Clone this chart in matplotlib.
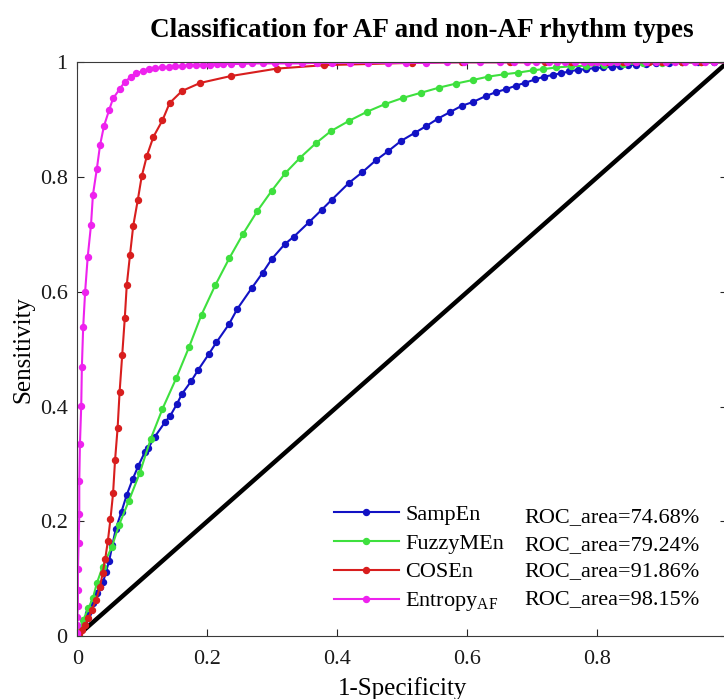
import matplotlib
matplotlib.use("Agg")
import matplotlib.pyplot as plt

plt.rcParams['font.family'] = ['Liberation Serif', 'DejaVu Serif']
plt.rcParams['mathtext.fontset'] = 'custom'
plt.rcParams['mathtext.rm'] = 'Liberation Serif'
plt.rcParams['mathtext.it'] = 'Liberation Serif:italic'

# ROC curves: (1-Specificity, Sensitivity) pairs for each entropy measure
sampen_fpr = [0, 0.004, 0.010, 0.017, 0.024, 0.030, 0.035, 0.040, 0.044, 0.049, 0.054, 0.059,
              0.068, 0.076, 0.085, 0.094, 0.104, 0.109, 0.119, 0.135, 0.143, 0.153, 0.161, 0.175,
              0.186, 0.202, 0.214, 0.233, 0.246, 0.268, 0.285, 0.299, 0.319, 0.333, 0.357, 0.376,
              0.391, 0.418, 0.438, 0.459, 0.478, 0.498, 0.519, 0.537, 0.555, 0.573, 0.591, 0.609,
              0.628, 0.644, 0.659, 0.674, 0.688, 0.704, 0.718, 0.732, 0.744, 0.757, 0.770, 0.783,
              0.796, 0.809, 0.822, 0.834, 0.847, 0.860, 0.875, 0.890, 0.910, 0.930, 0.955, 0.980, 1.0]
sampen_tpr = [0, 0.010, 0.024, 0.040, 0.058, 0.075, 0.085, 0.095, 0.112, 0.131, 0.159, 0.186,
              0.217, 0.246, 0.273, 0.297, 0.321, 0.327, 0.347, 0.373, 0.384, 0.404, 0.422, 0.444,
              0.464, 0.491, 0.512, 0.543, 0.570, 0.606, 0.633, 0.657, 0.683, 0.696, 0.722, 0.743,
              0.760, 0.790, 0.808, 0.829, 0.845, 0.863, 0.877, 0.889, 0.902, 0.913, 0.924, 0.931,
              0.941, 0.948, 0.953, 0.959, 0.964, 0.970, 0.975, 0.978, 0.981, 0.984, 0.987, 0.988,
              0.990, 0.991, 0.992, 0.993, 0.995, 0.996, 0.997, 0.998, 0.999, 1.0, 1.0, 1.0, 1.0]

fuzzy_fpr = [0, 0.004, 0.009, 0.017, 0.024, 0.030, 0.039, 0.053, 0.064, 0.079, 0.096, 0.113,
             0.131, 0.152, 0.172, 0.191, 0.212, 0.234, 0.255, 0.277, 0.299, 0.320, 0.343, 0.367,
             0.390, 0.418, 0.446, 0.473, 0.501, 0.529, 0.557, 0.583, 0.608, 0.632, 0.656, 0.678,
             0.701, 0.716, 0.737, 0.760, 0.783, 0.810, 0.840, 0.870, 0.900, 0.930, 0.960, 1.0]
fuzzy_tpr = [0, 0.012, 0.028, 0.048, 0.066, 0.092, 0.121, 0.155, 0.193, 0.235, 0.284, 0.344,
             0.396, 0.449, 0.504, 0.560, 0.611, 0.659, 0.701, 0.741, 0.776, 0.807, 0.834, 0.859,
             0.880, 0.898, 0.914, 0.927, 0.938, 0.947, 0.956, 0.963, 0.969, 0.975, 0.979, 0.982,
             0.986, 0.988, 0.991, 0.993, 0.994, 0.996, 0.997, 0.998, 0.999, 1.0, 1.0, 1.0]

cosen_fpr = [0, 0.003, 0.007, 0.012, 0.017, 0.022, 0.029, 0.035, 0.039, 0.043, 0.047, 0.051,
             0.055, 0.058, 0.062, 0.065, 0.069, 0.073, 0.076, 0.081, 0.086, 0.093, 0.099, 0.107,
             0.117, 0.131, 0.142, 0.161, 0.189, 0.236, 0.307, 0.380, 0.515, 0.591, 0.665, 0.720,
             0.760, 0.790, 0.815, 0.840, 0.860, 0.880, 0.900, 0.930, 0.960, 1.0]
cosen_tpr = [0, 0.004, 0.010, 0.019, 0.031, 0.045, 0.063, 0.086, 0.110, 0.135, 0.166, 0.204,
             0.249, 0.306, 0.363, 0.425, 0.489, 0.554, 0.611, 0.664, 0.715, 0.760, 0.801, 0.837,
             0.870, 0.899, 0.929, 0.950, 0.964, 0.976, 0.989, 0.995, 0.999, 1.0, 1.0, 1.0,
             1.0, 1.0, 1.0, 1.0, 1.0, 1.0, 1.0, 1.0, 1.0, 1.0]

entaf_fpr = [0, 0, 0, 0, 0.001, 0.001, 0.001, 0.002, 0.003, 0.003, 0.004, 0.006, 0.007, 0.009,
             0.012, 0.016, 0.021, 0.024, 0.030, 0.035, 0.041, 0.049, 0.055, 0.065, 0.073, 0.083,
             0.091, 0.101, 0.110, 0.120, 0.130, 0.141, 0.151, 0.161, 0.172, 0.182, 0.193, 0.204,
             0.215, 0.224, 0.237, 0.253, 0.268, 0.286, 0.304, 0.324, 0.345, 0.368, 0.391, 0.419,
             0.447, 0.478, 0.506, 0.537, 0.568, 0.595, 0.620, 0.650, 0.672, 0.692, 0.705, 0.725,
             0.738, 0.750, 0.765, 0.780, 0.790, 0.800, 0.810, 0.820, 0.830, 0.845, 0.860, 0.875,
             0.890, 0.905, 0.920, 0.935, 0.950, 0.965, 0.980, 1.0]
entaf_tpr = [0, 0.005, 0.019, 0.033, 0.052, 0.081, 0.116, 0.162, 0.212, 0.270, 0.334, 0.401,
             0.469, 0.538, 0.600, 0.661, 0.716, 0.769, 0.814, 0.856, 0.889, 0.917, 0.937, 0.953,
             0.966, 0.975, 0.981, 0.985, 0.988, 0.990, 0.991, 0.992, 0.993, 0.994, 0.995, 0.995,
             0.996, 0.996, 0.997, 0.997, 0.997, 0.997, 0.998, 0.998, 0.998, 0.998, 0.998, 0.999,
             0.999, 0.999, 0.999, 0.999, 0.999, 0.999, 1.0, 1.0, 1.0, 1.0, 1.0, 1.0, 1.0, 1.0,
             1.0, 1.0, 1.0, 1.0, 1.0, 1.0, 1.0, 1.0, 1.0, 1.0, 1.0, 1.0, 1.0, 1.0, 1.0, 1.0,
             1.0, 1.0, 1.0, 1.0]

series_names = ['SampEn', 'FuzzyMEn', 'COSEn', 'Entropy$_\\mathrm{AF}$']
roc_areas = [74.68, 79.24, 91.86, 98.15]
colors = ['#1212c4', '#3ee03e', '#d81e1e', '#ee22ee']
tick_vals = [0, 0.2, 0.4, 0.6, 0.8, 1.0]
x_tick_labels = ['0', '0.2', '0.4', '0.6', '0.8', '']
y_tick_labels = ['0', '0.2', '0.4', '0.6', '0.8', '1']

fig = plt.figure(figsize=(7.24, 6.99), dpi=100)
ax = fig.add_axes([0.1068, 0.0901, 0.8980, 0.8208])

# chance line
ax.plot([0, 1], [0, 1], color='black', lw=3.2, zorder=1)

curves = [(sampen_fpr, sampen_tpr), (fuzzy_fpr, fuzzy_tpr),
          (cosen_fpr, cosen_tpr), (entaf_fpr, entaf_tpr)]
for (fx, ty), name, col in zip(curves, series_names, colors):
    ax.plot(fx, ty, '-o', color=col, lw=1.5, ms=4.3, label=name, zorder=2)

ax.set_xlim(0, 1)
ax.set_ylim(0, 1)
ax.set_xticks(tick_vals)
ax.set_xticklabels(x_tick_labels)
ax.set_yticks(tick_vals)
ax.set_yticklabels(y_tick_labels)
ax.tick_params(direction='in', length=5, width=0.8, colors='#262626',
               labelcolor='#1a1a1a', labelsize=16, top=True, right=True)
ax.tick_params(axis='x', pad=10)
ax.tick_params(axis='y', pad=7)
for sp in ax.spines.values():
    sp.set_color('#3a3a3a')
    sp.set_linewidth(0.8)

ax.set_xlabel('1-Specificity', fontsize=18, labelpad=6)
ax.set_ylabel('Sensitivity', fontsize=18, labelpad=4)
ax.set_title('Classification for AF and non-AF rhythm types', fontsize=19.5,
             fontweight='bold', pad=18, x=0.53)

ax.legend(loc='upper left', bbox_to_anchor=(0.395, 0.229), frameon=False,
          fontsize=16, numpoints=1, handlelength=2.9, handletextpad=0.3,
          labelspacing=0.36, borderpad=0, borderaxespad=0)

roc_y = [0.206, 0.157, 0.112, 0.064]
for area, yy in zip(roc_areas, roc_y):
    ax.text(0.688, yy, f'ROC_area={area:.2f}%', transform=ax.transAxes,
            fontsize=16, va='center', ha='left')

fig.savefig('out.png', dpi=100)
